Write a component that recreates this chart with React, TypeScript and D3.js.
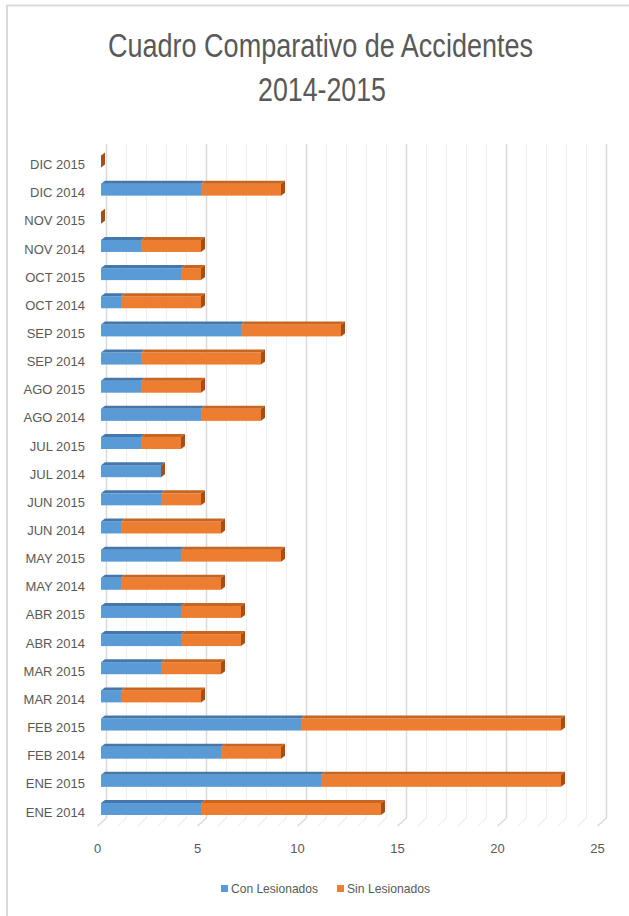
import React from "react";
import * as d3 from "d3";

const categories = [
  "ENE 2014", "ENE 2015", "FEB 2014", "FEB 2015", "MAR 2014", "MAR 2015",
  "ABR 2014", "ABR 2015", "MAY 2014", "MAY 2015", "JUN 2014", "JUN 2015",
  "JUL 2014", "JUL 2015", "AGO 2014", "AGO 2015", "SEP 2014", "SEP 2015",
  "OCT 2014", "OCT 2015", "NOV 2014", "NOV 2015", "DIC 2014", "DIC 2015",
];
const conLesionados = [5, 11, 6, 10, 1, 3, 4, 4, 1, 4, 1, 3, 3, 2, 5, 2, 2, 7, 1, 4, 2, 0, 5, 0];
const sinLesionados = [9, 12, 3, 13, 4, 3, 3, 3, 5, 5, 5, 2, 0, 2, 3, 3, 6, 5, 4, 1, 3, 0, 4, 0];
const xTicks = [0, 5, 10, 15, 20, 25];
const seriesNames = ["Con Lesionados", "Sin Lesionados"];

const W = 629;
const H = 916;
const FONT = "'Liberation Sans', Arial, sans-serif";
const TXT = "#595959";

export default function App() {
  const x = d3.scaleLinear().domain([0, 25]).range([97.5, 597.5]);
  const y = d3.scalePoint<string>().domain(categories).range([812, 164.5]);

  const floorY = 826;
  const backDx = 9, backDy = -8;
  const barDx = 3.5, barDy = -3; // front face offset from floor front
  const topDx = 4, topDy = -3; // bar depth
  const gridTop = 144;
  const faceUp = 9, faceDown = 3;

  const blue = "#5b9bd5", blueTop = "#4677ab";
  const orange = "#ed7d31", orangeTop = "#c8651f", side = "#a54f16";

  const minor = d3.range(0, 26);

  const rows = categories.map((c, i) => {
    const rc = y(c) as number;
    const yT = rc - faceUp;
    const yB = rc + faceDown;
    const x0 = x(0) + barDx;
    const x1 = x(conLesionados[i]) + barDx;
    const x2 = x(conLesionados[i] + sinLesionados[i]) + barDx;
    const topPoly = (a: number, b: number) =>
      `${a},${yT} ${b},${yT} ${b + topDx},${yT + topDy} ${a + topDx},${yT + topDy}`;
    return (
      <g key={c}>
        {x1 > x0 && (
          <>
            <rect x={x0} y={yT} width={x1 - x0} height={yB - yT} fill={blue} />
            <polygon points={topPoly(x0, x1)} fill={blueTop} />
          </>
        )}
        {x2 > x1 && (
          <>
            <rect x={x1} y={yT} width={x2 - x1} height={yB - yT} fill={orange} />
            <polygon points={topPoly(x1, x2)} fill={orangeTop} />
          </>
        )}
        <polygon
          points={`${x2},${yT} ${x2 + topDx},${yT + topDy} ${x2 + topDx},${yB + topDy} ${x2},${yB}`}
          fill={side}
        />
        <text x={85} y={rc} dy="0.35em" textAnchor="end" fontSize={13} fill={TXT} fontFamily={FONT}>
          {c}
        </text>
      </g>
    );
  });

  return (
    <svg width={W} height={H} style={{ position: "absolute", left: 0, top: 0, background: "#fff" }}>
      <rect x={0} y={0} width={W} height={H} fill="#fff" />
      <path d={`M7,${H + 5} V5.5 H${W + 5}`} fill="none" stroke="#d9d9d9" strokeWidth={2} />
      <text x={320.5} y={57} textAnchor="middle" fontSize={34} fill={TXT} fontFamily={FONT}
        textLength={425} lengthAdjust="spacingAndGlyphs">
        Cuadro Comparativo de Accidentes
      </text>
      <text x={322} y={101} textAnchor="middle" fontSize={34} fill={TXT} fontFamily={FONT}
        textLength={128} lengthAdjust="spacingAndGlyphs">
        2014-2015
      </text>
      {minor.map((v) => {
        const major = v % 5 === 0;
        const c = major ? "#d9d9d9" : "#efefef";
        const bx = x(v) + backDx;
        return (
          <g key={v}>
            <line x1={bx} x2={bx} y1={gridTop} y2={floorY + backDy} stroke={c} strokeWidth={major ? 1.5 : 1.2} />
            <line x1={x(v)} y1={floorY} x2={bx} y2={floorY + backDy} stroke={c} strokeWidth={major ? 1.5 : 1.2} />
          </g>
        );
      })}
      {rows.slice().reverse()}
      {xTicks.map((t) => (
        <text key={t} x={x(t)} y={853} textAnchor="middle" fontSize={13} fill={TXT} fontFamily={FONT}>
          {t}
        </text>
      ))}
      <g>
        <rect x={221} y={885} width={7} height={7} fill={blue} />
        <text x={231} y={893} fontSize={13} fill={TXT} fontFamily={FONT} textLength={87} lengthAdjust="spacingAndGlyphs">
          {seriesNames[0]}
        </text>
        <rect x={337} y={885} width={7} height={7} fill={orange} />
        <text x={347} y={893} fontSize={13} fill={TXT} fontFamily={FONT} textLength={83} lengthAdjust="spacingAndGlyphs">
          {seriesNames[1]}
        </text>
      </g>
    </svg>
  );
}
